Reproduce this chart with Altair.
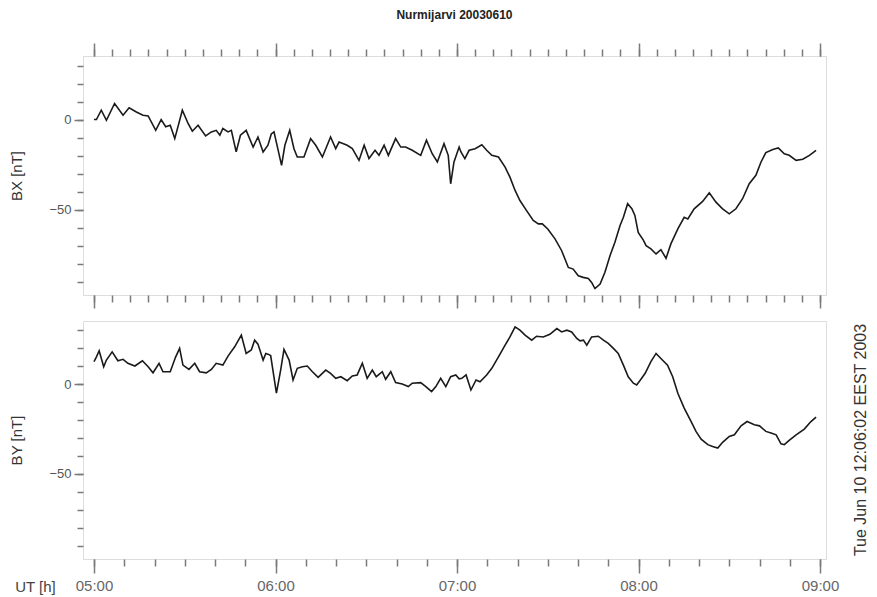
import altair as alt
import pandas as pd

# ---- data (minutes after 05:00 UT, nT) ----
bx_t = [0, 0.8, 2.4, 4.1, 6.8, 9.6, 11.6, 14.0, 16.2, 17.9,
        20.4, 22.2, 23.7, 25.2, 26.7, 29.2, 31.1, 32.5, 34.4, 36.9,
        38.8, 40.4, 41.6, 42.6, 44.3, 45.4, 47.0, 48.4, 50.3, 52.6,
        54.2, 55.9, 57.5, 58.6, 59.5, 62.0, 63.1, 64.7, 66.1, 67.2,
        69.4, 71.6, 73.3, 75.5, 78.2, 79.9, 81.0, 83.7, 85.4, 87.6,
        89.3, 90.9, 92.9, 94.2, 95.9, 97.3, 99.7, 101.4, 103.0, 105.2,
        108.0, 109.9, 111.8, 113.5, 115.7, 117.1, 117.9, 119.0, 120.7, 121.3,
        122.6, 124.0, 126.0, 128.2, 129.8, 131.5, 133.7, 135.9, 137.5, 139.2,
        140.8, 143.0, 145.2, 146.9, 148.2, 150.0, 152.4, 154.6, 156.8, 158.4,
        160.1, 161.7, 163.4, 164.5, 165.6, 167.3, 168.9, 170.6, 172.2, 173.9,
        175.0, 176.4, 177.8, 178.8, 179.9, 181.6, 182.5, 184.1, 185.8, 187.4,
        189.1, 190.7, 193.0, 195.1, 196.3, 198.4, 201.2, 203.4, 205.6, 207.8,
        210.0, 212.2, 214.4, 216.6, 218.8, 220.5, 222.1, 224.4, 226.2, 228.2,
        229.8, 232.1, 234.3, 236.5, 238.7]
bx_v = [0, 0, 5.2, -0.4, 8.9, 2.4, 6.5, 4.2, 2.4, 2,
        -6, 0, -4, -3.2, -10.6, 5.2, -2.2, -6.5, -3.2, -9.1,
        -6.9, -6, -8.7, -5, -6.9, -6, -18, -8.7, -6, -15.3,
        -9.7, -18, -14.3, -8, -6.9, -25.5, -14.3, -6, -16.2, -20.8,
        -20.8, -10.6, -14.3, -20.8, -9.7, -16.2, -12.5, -14.3, -16.2, -22.7,
        -14.3, -21.7, -17.1, -19.9, -14.3, -19.9, -10.6, -15.3, -15.3, -17.1,
        -19.9, -11.5, -19, -23.6, -13.4, -19.9, -35.7, -23.6, -15.3, -18,
        -21.7, -17.1, -16.2, -14, -17.1, -19.9, -20.8, -26.4, -32, -39.4,
        -45, -50.6, -56.1, -58, -58, -60.8, -66.3, -72.9, -82.2, -83.1,
        -86.8, -87.7, -88.3, -90.5, -93.9, -91.4, -84.9, -75.6, -68.2, -58.9,
        -54.3, -46.8, -49.6, -53.3, -62.7, -67, -70.1, -71.9, -74.7, -72.3,
        -77.1, -69.1, -60.8, -54.3, -55.2, -49.6, -45.5, -40.7, -45.9, -49.6,
        -52.4, -49.6, -44, -35.7, -31, -23.6, -18.4, -16.6, -15.8, -19,
        -19.9, -22.7, -22.1, -19.9, -17.1]

by_t = [0, 0.8, 1.7, 3.2, 4.1, 6.0, 7.9, 9.6, 11.2, 13.5,
        16.0, 17.9, 19.5, 21.5, 22.8, 25.2, 27.0, 28.3, 29.4, 31.4,
        33.3, 34.9, 37.1, 38.8, 40.4, 42.6, 44.3, 46.5, 48.7, 50.3,
        52.0, 53.1, 54.2, 55.9, 56.8, 57.5, 58.4, 60.3, 61.7, 62.8,
        64.5, 65.8, 67.2, 68.9, 70.5, 72.2, 74.1, 76.6, 78.2, 79.9,
        81.6, 83.7, 85.4, 87.0, 88.7, 90.3, 92.0, 93.3, 95.3, 96.4,
        98.1, 99.7, 101.9, 103.9, 105.2, 108.0, 109.7, 111.6, 113.0, 114.6,
        116.3, 117.9, 119.6, 120.7, 121.6, 123.0, 124.6, 126.3, 127.6, 129.8,
        131.5, 133.7, 135.9, 137.5, 139.2, 140.8, 142.5, 144.7, 146.3, 148.5,
        150.7, 153.0, 154.6, 156.3, 157.9, 159.6, 160.7, 161.8, 162.9, 164.5,
        166.7, 168.4, 170.0, 171.7, 173.3, 175.0, 176.6, 178.3, 179.4, 180.8,
        182.2, 184.1, 185.8, 187.4, 189.6, 191.3, 193.0, 195.1, 197.4, 199.0,
        200.7, 202.9, 204.5, 206.2, 207.8, 210.0, 211.7, 213.9, 215.9, 218.3,
        220.0, 222.1, 223.8, 225.5, 227.1, 228.2, 229.8, 232.1, 234.8, 237.0,
        238.7]
by_v = [12.6, 15.3, 18.7, 9.8, 13.5, 18.1, 13.1, 13.9, 11.7, 10.2,
        13.1, 9.8, 6.4, 11.7, 7, 7, 15.3, 20, 10.7, 8.3,
        11.7, 7, 6.4, 8.3, 11.7, 10.7, 15.7, 20.9, 27.4, 17.2,
        19.1, 24.6, 22.4, 13.5, 17.2, 16.8, 16, -5, 7.9, 19.4,
        13.5, 2.4, 8.9, 9.8, 10.2, 7, 3.9, 7.9, 6.1, 3.3,
        4.2, 2, 4.6, 5.2, 11.7, 3.3, 7.9, 4.2, 7, 2.8,
        7, 0.9, 0.2, -1.3, 0.6, 0.9, -1.3, -4.1, -1.3, 3.3,
        -1.3, 4.2, 5.2, 3, 3.3, 5.2, -3.2, 2.4, 1.4, 5.2,
        8.9, 15.3, 21.8, 26.4, 32, 30.2, 27.4, 24.6, 26.8, 26.4,
        27.9, 31.1, 29.2, 30.2, 29.2, 25.6, 24.2, 24.6, 21.8, 26.4,
        26.8, 24.6, 22.8, 20, 17.2, 10.7, 4.2, 0.6, -0.4, 2.8,
        6.1, 12.6, 17.2, 14.4, 10.7, 4.2, -5, -13.3, -20.8, -26.3,
        -30.6, -33.7, -34.7, -35.6, -32.4, -29.1, -28.2, -23.2, -20.8, -22.6,
        -23.2, -26.3, -27.2, -28.2, -33.2, -33.7, -31.3, -28.2, -25, -20.8,
        -18.3]

hour_labels = ["05:00", "06:00", "07:00", "08:00", "09:00"]
hour_ticks = [0, 60, 120, 180, 240]
top_minor_ticks = list(range(0, 241, 6))
bottom_minor_ticks = list(range(0, 241, 10))
y_minor_ticks = list(range(-90, 31, 10))
y_major_ticks = [0, -50]
title_text = "Nurmijarvi 20030610"
stamp_text = "Tue Jun 10 12:06:02 EEST 2003"

df_bx = pd.DataFrame({"t": bx_t, "v": bx_v})
df_by = pd.DataFrame({"t": by_t, "v": by_v})

X_DOMAIN = [-3.64, 241.98]
Y_DOMAIN = [-97.5, 35.3]
W = 743
FONT = "Liberation Sans"
AX_COL = "#7a7a7a"
TXT_COL = "#555555"

xscale = alt.Scale(domain=X_DOMAIN, nice=False, zero=False)
yscale = alt.Scale(domain=Y_DOMAIN, nice=False, zero=False)
hour_expr = "[" + ",".join("'" + h + "'" for h in hour_labels) + "][round(datum.value / 60)]"

tick_common = dict(domain=False, grid=False, tickColor=AX_COL, tickWidth=1.5,
                   labelOverlap=False)


def x_ticks_axis(orient, values, size):
    return alt.Axis(orient=orient, values=values, labels=False, title=None,
                    tickSize=size, **tick_common)


def y_minor_axis(title):
    return alt.Axis(orient="left", values=y_minor_ticks, labels=False, tickSize=6,
                    title=title, titleFont=FONT, titleFontSize=15,
                    titleFontWeight="normal", titleColor="#333", titleX=-67,
                    titleBaseline="middle", titleAngle=270, **tick_common)


y_major_axis = alt.Axis(orient="left", values=y_major_ticks, tickSize=9, title=None,
                        labelFont=FONT, labelFontSize=13, labelColor=TXT_COL,
                        labelPadding=3, **tick_common)

line_style = dict(color="#1a1a1a", strokeWidth=1.6)


def panel_layers(df, ytitle, bottom_minor, bottom_major_axis, with_top):
    layers = [
        alt.Chart(df).mark_line(**line_style).encode(
            x=alt.X("t:Q", scale=xscale, axis=x_ticks_axis("bottom", bottom_minor, 7)),
            y=alt.Y("v:Q", scale=yscale, axis=y_minor_axis(ytitle)),
        ),
        alt.Chart(df).mark_line(strokeOpacity=0).encode(
            x=alt.X("t:Q", scale=xscale, axis=bottom_major_axis),
            y=alt.Y("v:Q", scale=yscale, axis=y_major_axis),
        ),
    ]
    if with_top:
        layers += [
            alt.Chart(df).mark_line(strokeOpacity=0).encode(
                x=alt.X("t:Q", scale=xscale, axis=x_ticks_axis("top", top_minor_ticks, 7)),
                y=alt.Y("v:Q", scale=yscale, axis=None),
            ),
            alt.Chart(df).mark_line(strokeOpacity=0).encode(
                x=alt.X("t:Q", scale=xscale, axis=x_ticks_axis("top", hour_ticks, 13)),
                y=alt.Y("v:Q", scale=yscale, axis=None),
            ),
        ]
    return layers


top = alt.layer(
    *panel_layers(df_bx, "BX [nT]", top_minor_ticks,
                  x_ticks_axis("bottom", hour_ticks, 13), True)
).resolve_axis(x="independent", y="independent").properties(
    width=W, height=239,
    title=alt.TitleParams(title_text, font=FONT, fontSize=12, fontWeight="bold",
                          color="#222", anchor="middle", frame="group", offset=20),
)

bottom_major = alt.Axis(orient="bottom", values=hour_ticks, labelExpr=hour_expr,
                        tickSize=14, labelFont=FONT, labelFontSize=15, labelColor="#666",
                        labelPadding=5, labelFlush=False,
                        title="UT [h]", titleFont=FONT, titleFontSize=15,
                        titleFontWeight="normal", titleColor="#444",
                        titleX=-48, titleY=27, titleAlign="center",
                        titleBaseline="middle", titleAngle=0, **tick_common)

stamp = alt.Chart(pd.DataFrame({"s": [stamp_text]})).mark_text(
    angle=270, font=FONT, fontSize=16, color="#333", align="center", baseline="middle"
).encode(text="s:N", x=alt.value(778), y=alt.value(119))

bottom = alt.layer(
    *panel_layers(df_by, "BY [nT]", bottom_minor_ticks, bottom_major, False), stamp
).resolve_axis(x="independent", y="independent").properties(width=W, height=238)

chart = alt.vconcat(top, bottom, spacing=10).properties(
    padding={"left": 8, "top": 8, "right": 5, "bottom": 0}
).configure_view(stroke="#8a8a8a", strokeWidth=2).configure(background="white")

chart.save("out.html", embed_options={"renderer": "svg", "actions": False})
